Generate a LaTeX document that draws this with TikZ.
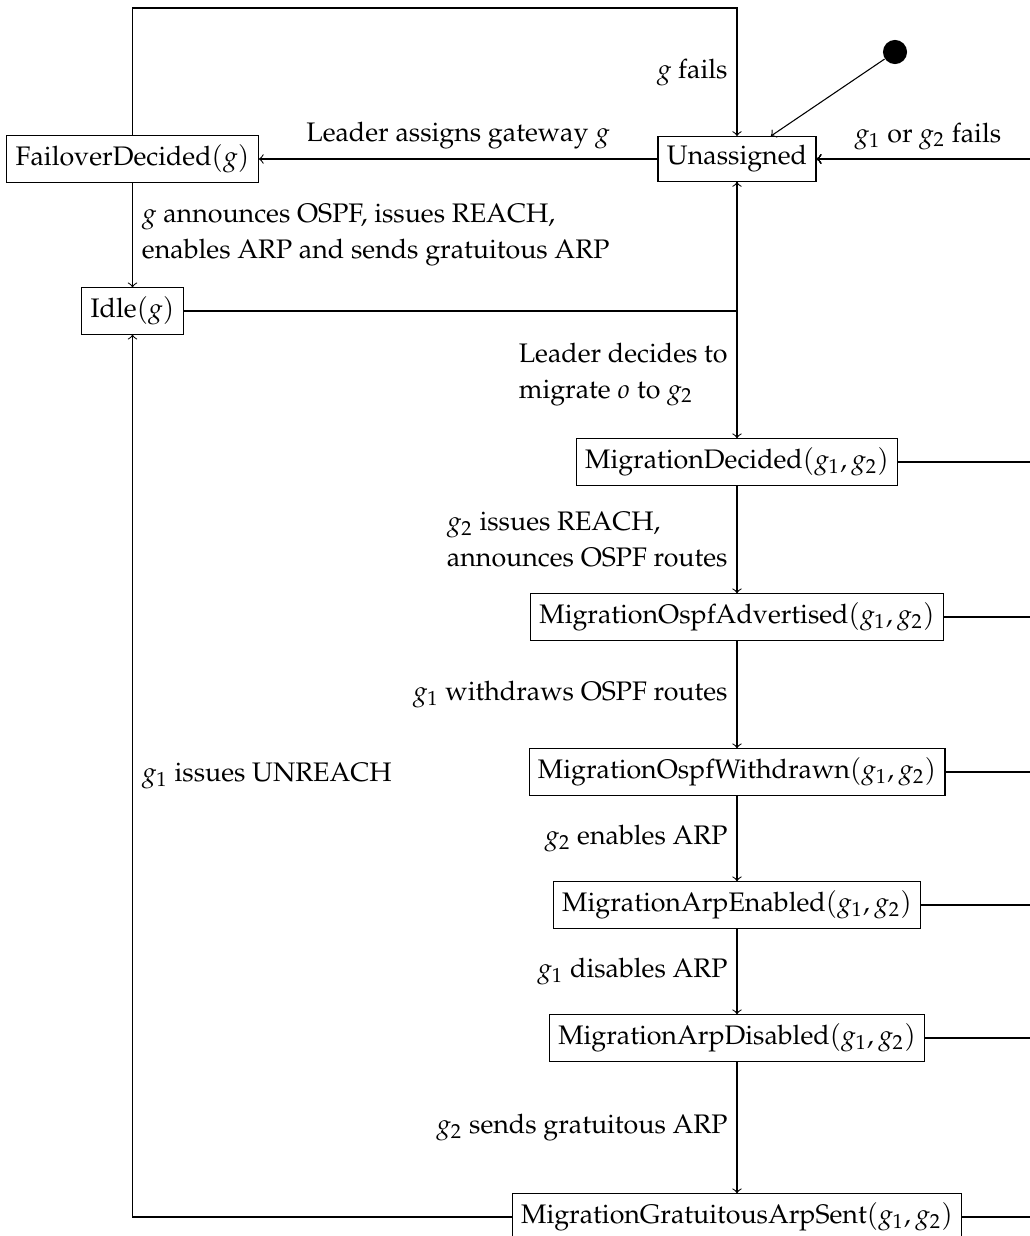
\documentclass[tikz,border=0pt]{standalone}
\usepackage[T1]{fontenc}
\usepackage{mathpazo}
\begin{document}
\begin{tikzpicture}[x=0.3731pt, y=-0.3731pt,
  every node/.style={font=\fontsize{10pt}{13.4pt}\selectfont},
  state/.style={draw, rectangle},
  tr/.style={->}]
\useasboundingbox (0,0) rectangle (1030,1236);
\clip (0,0) rectangle (1030,1236);

% states
\node[state] (un)   at (737,159)  {Unassigned};
\node[state] (fo)   at (132.5,159){FailoverDecided$(g)$};
\node[state] (idle) at (132.5,311){Idle$(g)$};
\node[fill, circle, inner sep=0pt, minimum size=9pt] (init) at (895,52) {};
\node[state] (md)   at (737,462)  {MigrationDecided$(g_1,g_2)$};
\node[state] (moa)  at (737,617)  {MigrationOspfAdvertised$(g_1,g_2)$};
\node[state] (mow)  at (737,772)  {MigrationOspfWithdrawn$(g_1,g_2)$};
\node[state] (mae)  at (737,905)  {MigrationArpEnabled$(g_1,g_2)$};
\node[state] (mad)  at (737,1038) {MigrationArpDisabled$(g_1,g_2)$};
\node[state] (mgs)  at (737,1217) {MigrationGratuitousArpSent$(g_1,g_2)$};

% routing points
\coordinate (top)  at (437,8);
\coordinate (side) at (1080,159);

% initial transition
\draw[tr] (init) -- (un);

% failover branch
\draw[tr] (fo.north) -- (fo.north |- top) -- (top -| un.north)
  -- node[left] {$g$ fails} (un.north);
\draw[tr] (un.west) -- node[above] {Leader assigns gateway $g$} (fo.east);
\draw[tr] (fo.south) -- node[right, align=left]
  {$g$ announces OSPF, issues REACH,\\enables ARP and sends gratuitous ARP} (idle.north);
\draw[tr] (idle.east) -| (un.south);

% migration chain
\draw[tr] (un.south) -- node[pos=0.75, left, align=left]
  {Leader decides to\\migrate $o$ to $g_2$} (md.north);
\draw[tr] (md.south) -- node[left, align=left]
  {$g_2$ issues REACH,\\announces OSPF routes} (moa.north);
\draw[tr] (moa.south) -- node[left] {$g_1$ withdraws OSPF routes} (mow.north);
\draw[tr] (mow.south) -- node[left] {$g_2$ enables ARP} (mae.north);
\draw[tr] (mae.south) -- node[left] {$g_1$ disables ARP} (mad.north);
\draw[tr] (mad.south) -- node[left] {$g_2$ sends gratuitous ARP} (mgs.north);
\draw[tr] (mgs.west) -| node[pos=0.75, right] {$g_1$ issues UNREACH} (idle.south);

% failure of either gateway during migration
\draw[tr] (md.east) -| (side) -- node[above, pos=0.577] {$g_1$ or $g_2$ fails} (un.east);
\foreach \s in {moa,mow,mae,mad,mgs}
  \draw[tr] (\s.east) -| (side) -- (un.east);
\end{tikzpicture}
\end{document}
